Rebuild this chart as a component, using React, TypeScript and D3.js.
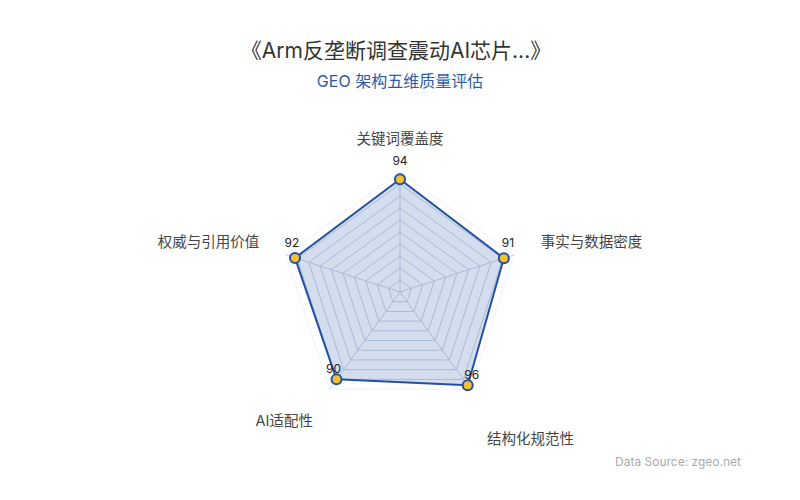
import React from 'react';
import * as d3 from 'd3';

const indicators = ['关键词覆盖度', '事实与数据密度', '结构化规范性', 'AI适配性', '权威与引用价值'];
const scores = [94, 91, 96, 90, 92];
const maxScore = 100;
const ringCount = 10;

const title = '《Arm反垄断调查震动AI芯片...》';
const subtitle = 'GEO 架构五维质量评估';
const source = 'Data Source: zgeo.net';

const W = 800;
const H = 500;
const cx = 400;
const cy = 292;
const radius = 120;
const font = 'Inter, "Noto Sans CJK SC", sans-serif';

export default function App() {
  const r = d3.scaleLinear().domain([0, maxScore]).range([0, radius]);
  // clockwise from top
  const angle = (i: number) => -Math.PI / 2 + (i * 2 * Math.PI) / indicators.length;
  const pt = (i: number, v: number): [number, number] => [
    cx + r(v) * Math.cos(angle(i)),
    cy + r(v) * Math.sin(angle(i)),
  ];

  const ringLevels = d3.range(1, ringCount + 1).map((k) => (k * maxScore) / ringCount);
  const polyLine = d3.line().curve(d3.curveLinearClosed);

  const dataPts = scores.map((s, i) => pt(i, s));

  // axis name placement
  const nameR = 148;
  const nameShift = [-1, 0, 31, 13, 0];
  // value label distance above the point
  const valueLift = [14, 11, 6, 6, 11];

  return (
    <svg width={W} height={H} style={{ position: 'fixed', left: 0, top: 0, background: '#fff' }} fontFamily={font}>
      <text x={396} y={58} textAnchor="middle" fontSize={21} fill="#333">{title}</text>
      <text x={400} y={87} textAnchor="middle" fontSize={16} fill="#2a5caa">{subtitle}</text>

      {/* rings */}
      {ringLevels.map((lv) => (
        <path key={lv} d={polyLine(indicators.map((_, i) => pt(i, lv))) ?? ''}
          fill="none" stroke={lv === maxScore ? '#edf1f8' : '#cbd4e4'} strokeWidth={1} />
      ))}
      {/* spokes */}
      {indicators.map((_, i) => {
        const [x, y] = pt(i, maxScore);
        return <line key={i} x1={cx} y1={cy} x2={x} y2={y} stroke="#cbd4e4" strokeWidth={1} />;
      })}

      {/* data area */}
      <path d={polyLine(dataPts) ?? ''} fill="rgba(42,85,165,0.2)" stroke="#2450a3" strokeWidth={2} strokeLinejoin="round" />
      {dataPts.map(([x, y], i) => {
        const c = Math.cos(angle(i));
        const dx = Math.abs(c) < 0.01 ? 0 : c > 0 ? 4 : -3;
        return (
          <g key={i}>
            <circle cx={x} cy={y} r={5} fill="#f2c230" stroke="#2450a3" strokeWidth={2} />
            <text x={x + dx} y={y - valueLift[i]} textAnchor="middle" fontSize={12} fill="#222">{scores[i]}</text>
          </g>
        );
      })}

      {/* axis names */}
      {indicators.map((name, i) => {
        const a = angle(i);
        const x = cx + nameR * Math.cos(a);
        const y = cy + nameR * Math.sin(a);
        const c = Math.cos(a);
        const anchor = Math.abs(c) < 0.01 ? 'middle' : c > 0 ? 'start' : 'end';
        return (
          <text key={name} x={x} y={y + nameShift[i] + 1} textAnchor={anchor}
            fontSize={14.5} fill="#444">{name}</text>
        );
      })}

      <text x={741} y={466} textAnchor="end" fontSize={12} fill="#aaa">{source}</text>
    </svg>
  );
}
